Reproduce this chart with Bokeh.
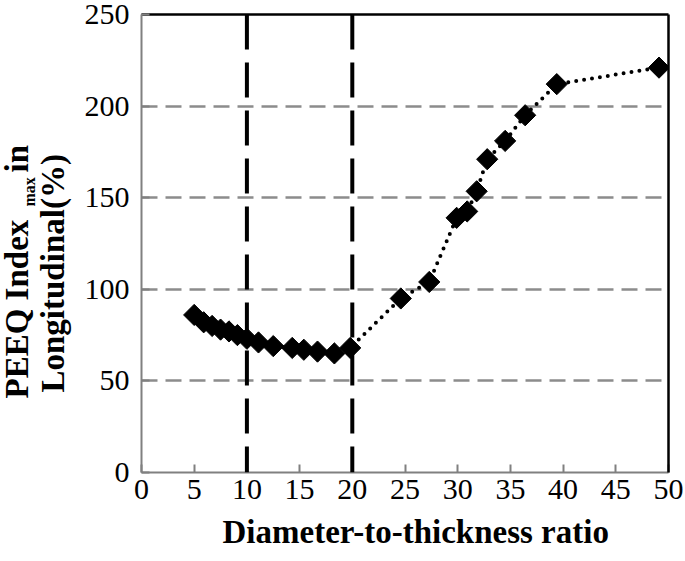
import math
from bokeh.plotting import figure
from bokeh.layouts import row
from bokeh.models import Span, LinearAxis, FixedTicker, Range1d, Title
from bokeh.core.properties import value
from bokeh.embed import file_html
from bokeh.resources import INLINE

ratio = [5.0, 5.9, 6.7, 7.5, 8.3, 9.1, 10.0, 11.1, 12.5, 14.3, 15.4, 16.7, 18.3, 19.8,
         24.6, 27.3, 29.9, 30.9, 31.8, 32.8, 34.5, 36.4, 39.4, 49.1]
peeq = [86, 82, 80, 78, 77, 75, 73, 71, 69, 68, 67, 66, 65, 68,
        95, 104, 139, 142.5, 153.5, 171, 181, 195, 212, 221]
x_ticks = [0, 5, 10, 15, 20, 25, 30, 35, 40, 45, 50]
y_ticks = [0, 50, 100, 150, 200, 250]
limits = [10, 20]
x_title = "Diameter-to-thickness ratio"
y_title_1 = ["PEEQ Index", "max", "in"]
y_title_2 = "Longitudinal(%)"

SERIF = "Liberation Serif"
H = 561
LW = 75
TOP, BOTTOM = 14, 89

# ---- left strip holding the rotated y title (coordinates: y = H - page_y) ----
t = figure(frame_width=LW, frame_height=H - TOP - BOTTOM, output_backend="svg",
           toolbar_location=None, title=None,
           x_range=Range1d(0, LW), y_range=Range1d(BOTTOM, H - TOP),
           min_border_left=0, min_border_right=0, min_border_top=TOP, min_border_bottom=BOTTOM)
t.axis.visible = False
t.grid.visible = False
t.outline_line_color = None
big = dict(text_font=value(SERIF), text_font_style="bold", text_align="left",
           text_baseline="alphabetic", angle=math.pi / 2, text_color="black")
t.text(x=[16], y=[H - 398], text=[y_title_1[0]], text_font_size="33px", **big)
t.text(x=[29], y=[H - 206], text=[y_title_1[1]], text_font_size="16px", **big)
t.text(x=[16], y=[H - 172], text=[y_title_1[2]], text_font_size="33px", **big)
t.text(x=[52], y=[H - 392], text=[y_title_2], text_font_size="33px", **big)

# ---- main chart ----
p = figure(width=685 - LW, height=H, output_backend="svg", toolbar_location=None,
           x_range=Range1d(0, 50), y_range=Range1d(0, 250),
           min_border_left=141 - LW, min_border_right=17, min_border_top=TOP,
           min_border_bottom=BOTTOM)
p.outline_line_color = None

p.xgrid.visible = False
p.ygrid.ticker = FixedTicker(ticks=y_ticks)
p.ygrid.grid_line_color = "#8c8c8c"
p.ygrid.grid_line_width = 2.5
p.ygrid.grid_line_dash = "16 8"

for ax, ticks in ((p.xaxis[0], x_ticks), (p.yaxis[0], y_ticks)):
    ax.ticker = FixedTicker(ticks=ticks)
    ax.axis_line_color = "#808080"
    ax.axis_line_width = 2
    ax.major_tick_line_color = "#808080"
    ax.major_tick_line_width = 2
    ax.major_tick_in = 8
    ax.major_tick_out = 0
    ax.minor_tick_line_color = None
    ax.major_label_text_font = SERIF
    ax.major_label_text_font_size = "30px"
    ax.major_label_text_color = "black"

p.xaxis[0].major_label_standoff = 7
p.yaxis[0].major_label_standoff = 12

for loc in ("right", "above"):
    p.add_layout(LinearAxis(ticker=FixedTicker(ticks=[]), axis_line_color="black",
                            axis_line_width=2.5, major_tick_line_color=None,
                            minor_tick_line_color=None, major_label_text_font_size="0px"), loc)

for lx in limits:
    p.add_layout(Span(location=lx, dimension="height", line_color="black",
                      line_width=4, line_dash="35 13"))

p.line(ratio, peeq, line_color="black", line_width=4, line_dash="0 8", line_cap="round")
p.scatter(ratio, peeq, marker="square", angle=math.pi / 4, size=15,
          fill_color="black", line_color="black")

p.add_layout(Title(text=x_title, align="left", offset=81, text_font=SERIF,
                   text_font_style="bold", text_font_size="33px", text_color="black",
                   standoff=21), "below")

layout = row(t, p, spacing=0)
open("out.html", "w").write(file_html(layout, INLINE))
